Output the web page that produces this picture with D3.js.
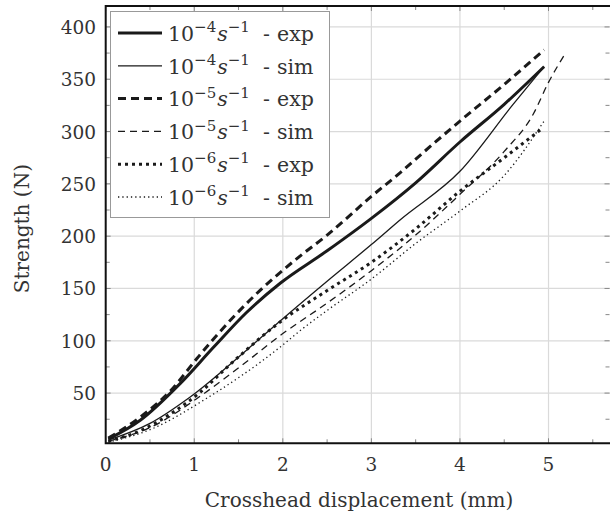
<!DOCTYPE html>
<html lang="en">
<head>
  <meta charset="UTF-8" />
  <title>Strength vs crosshead displacement</title>
  <script src="https://d3js.org/d3.v7.min.js"></script>
  <style>
    body { margin: 0; background: #fff; }
    text { font-family: "DejaVu Serif"; fill: #333; }
  </style>
</head>
<body>
  <svg width="610" height="517"></svg>
  <script>
    // values
    const exp4X = [0.03, 0.39, 0.84, 1.22, 1.59, 1.97, 2.5, 3.0, 3.5, 4.0, 4.5, 4.95];
    const exp4Y = [6, 24, 59, 94, 127, 155, 186, 217, 251, 290, 326, 362];
    const sim4X = [0.03, 0.5, 0.95, 1.59, 1.97, 2.5, 3.0, 3.33, 4.0, 4.6, 4.95];
    const sim4Y = [5, 21, 46, 91, 119, 157, 192, 216, 262, 326, 362];
    const exp5X = [0.03, 0.39, 0.73, 1.03, 1.22, 1.63, 2.18, 2.5, 3.0, 3.33, 3.6, 4.0, 4.5, 4.95];
    const exp5Y = [7, 27, 52, 83, 102, 139, 180, 201, 238, 261, 281, 310, 345, 378];
    const sim5X = [0.03, 0.5, 1.1, 1.59, 1.97, 2.5, 3.0, 3.5, 4.0, 4.5, 4.83, 5.0, 5.2];
    const sim5Y = [4, 17, 49, 80, 105, 136, 167, 201, 240, 281, 317, 347, 376];
    const exp6X = [0.03, 0.39, 0.73, 1.07, 1.4, 1.97, 2.5, 3.0, 3.5, 4.0, 4.5, 4.93];
    const exp6Y = [4, 14, 30, 51, 77, 118, 148, 175, 207, 243, 275, 303];
    const sim6X = [0.03, 0.5, 1.14, 1.97, 2.2, 2.5, 3.0, 3.5, 4.0, 4.5, 4.95];
    const sim6Y = [3, 15, 45, 94, 110, 129, 159, 193, 224, 258, 310];

    const xTicks = [0, 1, 2, 3, 4, 5];
    const yTicks = [50, 100, 150, 200, 250, 300, 350, 400];
    const rates = ["4", "4", "5", "5", "6", "6"];
    const kinds = ["exp", "sim", "exp", "sim", "exp", "sim"];

    const series = [
      { xs: exp4X, ys: exp4Y, w: 3, dash: null },
      { xs: sim4X, ys: sim4Y, w: 1.3, dash: null },
      { xs: exp5X, ys: exp5Y, w: 3, dash: "8,5" },
      { xs: sim5X, ys: sim5Y, w: 1.3, dash: "7,5" },
      { xs: exp6X, ys: exp6Y, w: 3, dash: "3,4" },
      { xs: sim6X, ys: sim6Y, w: 1.3, dash: "1.3,3" }
    ];

    const svg = d3.select("svg");
    const pL = 105.7, pR = 610.5, pT = 6, pB = 443.3;

    const x = d3.scaleLinear().domain([0, 5.7]).range([pL, pR]);
    const y = d3.scaleLinear().domain([2, 420]).range([pB, pT]);

    // grid
    svg.append("g")
      .selectAll("line")
      .data(xTicks.slice(1))
      .join("line")
      .attr("x1", d => x(d)).attr("x2", d => x(d))
      .attr("y1", pT).attr("y2", pB)
      .attr("stroke", "#dadada").attr("stroke-width", 1.2);
    svg.append("g")
      .selectAll("line")
      .data(yTicks)
      .join("line")
      .attr("x1", pL).attr("x2", pR)
      .attr("y1", d => y(d)).attr("y2", d => y(d))
      .attr("stroke", "#dadada").attr("stroke-width", 1.2);

    // ticks inside the frame (major + minor), on all four sides
    const xMinor = d3.range(0.5, 5.7, 1);
    const yMinor = d3.range(25, 420, 50);
    const tickG = svg.append("g").attr("stroke", "#888").attr("stroke-width", 1);
    xTicks.concat(xMinor).forEach(v => {
      const len = xTicks.includes(v) ? 5 : 4;
      tickG.append("line").attr("x1", x(v)).attr("x2", x(v)).attr("y1", pB).attr("y2", pB - len);
      tickG.append("line").attr("x1", x(v)).attr("x2", x(v)).attr("y1", pT).attr("y2", pT + len);
    });
    yTicks.concat(yMinor).forEach(v => {
      const len = yTicks.includes(v) ? 5 : 4;
      tickG.append("line").attr("x1", pL).attr("x2", pL + len).attr("y1", y(v)).attr("y2", y(v));
      tickG.append("line").attr("x1", pR - 1).attr("x2", pR - 1 - len).attr("y1", y(v)).attr("y2", y(v));
    });

    // curves
    const line = d3.line().curve(d3.curveMonotoneX);
    series.forEach(s => {
      const pts = s.xs.map((v, i) => [x(v), y(s.ys[i])]);
      svg.append("path")
        .attr("d", line(pts))
        .attr("fill", "none")
        .attr("stroke", "#1a1a1a")
        .attr("stroke-width", s.w)
        .attr("stroke-dasharray", s.dash);
    });

    // frame
    svg.append("path")
      .attr("d", `M${pR},${pT}H${pL}V${pB}H${pR}`)
      .attr("fill", "none").attr("stroke", "#111").attr("stroke-width", 2);

    // tick labels
    svg.append("g")
      .selectAll("text")
      .data(xTicks)
      .join("text")
      .attr("x", d => x(d)).attr("y", 470.5)
      .attr("text-anchor", "middle")
      .attr("font-size", 18.5)
      .text(d => d);
    svg.append("g")
      .selectAll("text")
      .data(yTicks)
      .join("text")
      .attr("x", 96).attr("y", d => y(d) + 7)
      .attr("text-anchor", "end")
      .attr("font-size", 18.5)
      .text(d => d);

    // axis titles
    svg.append("text")
      .attr("x", 359).attr("y", 507)
      .attr("text-anchor", "middle")
      .attr("font-size", 20)
      .text("Crosshead displacement (mm)");
    svg.append("text")
      .attr("transform", `translate(29,${(pT + pB) / 2 + 4}) rotate(-90)`)
      .attr("text-anchor", "middle")
      .attr("font-size", 20)
      .text("Strength (N)");

    // legend
    const lg = svg.append("g");
    lg.append("rect")
      .attr("x", 110.5).attr("y", 11.5).attr("width", 219).attr("height", 206)
      .attr("fill", "#fff").attr("stroke", "#999").attr("stroke-width", 1);
    series.forEach((s, i) => {
      const cy = 33 + i * 32.8;
      lg.append("line")
        .attr("x1", 118).attr("x2", 162).attr("y1", cy).attr("y2", cy)
        .attr("stroke", "#1a1a1a").attr("stroke-width", s.w)
        .attr("stroke-dasharray", s.dash);
      const t = lg.append("text").attr("x", 168).attr("y", cy + 7.7).attr("font-size", 20.5);
      t.append("tspan").text("10");
      t.append("tspan").attr("font-size", 15).attr("dy", -8.5).text("\u2212" + rates[i]);
      t.append("tspan").attr("font-style", "italic").attr("dy", 8.5).attr("dx", 1).text("s");
      t.append("tspan").attr("font-size", 15).attr("dy", -8.5).text("\u22121");
      t.append("tspan").attr("dy", 8.5).attr("x", 263).text("-");
      t.append("tspan").attr("x", 277).text(kinds[i]);
    });
  </script>
</body>
</html>
